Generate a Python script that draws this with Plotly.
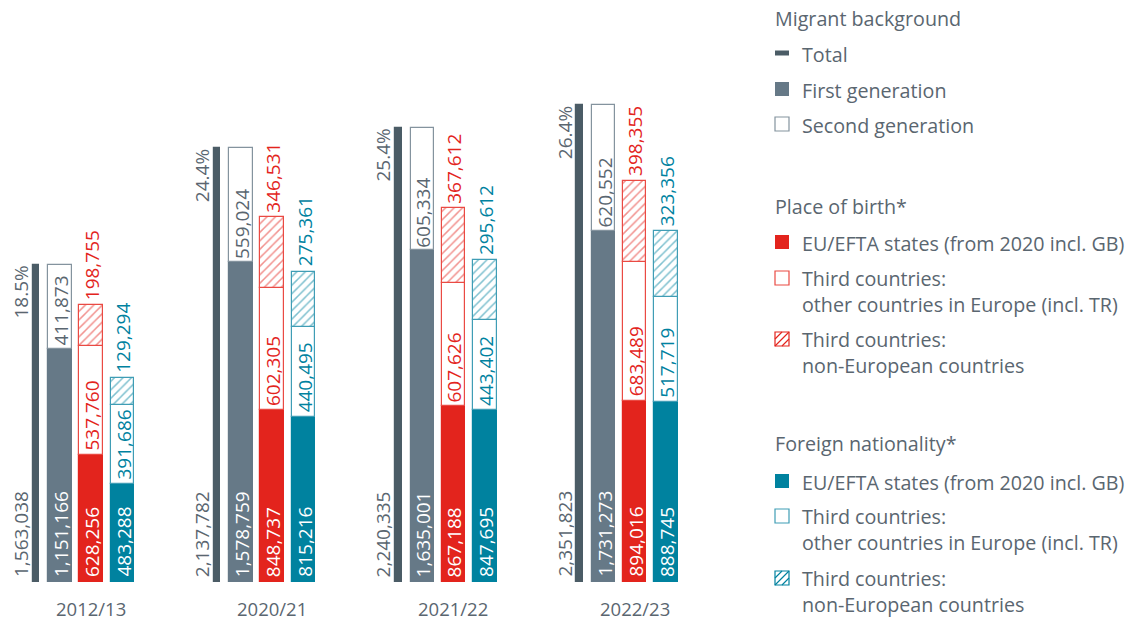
import plotly.graph_objects as go

# ---------------- data ----------------
years = ["2012/13", "2020/21", "2021/22", "2022/23"]
total = [1563038, 2137782, 2240335, 2351823]
share = ["18.5%", "24.4%", "25.4%", "26.4%"]
first_gen = [1151166, 1578759, 1635001, 1731273]
second_gen = [411873, 559024, 605334, 620552]
birth_eu = [628256, 848737, 867188, 894016]
birth_europe_other = [537760, 602305, 607626, 683489]
birth_non_europe = [198755, 346531, 367612, 398355]
nat_eu = [483288, 815216, 847695, 888745]
nat_europe_other = [391686, 440495, 443402, 517719]
nat_non_europe = [129294, 275361, 295612, 323356]

legend_titles = ["Migrant background", "Place of birth*", "Foreign nationality*"]
legend_migrant = ["Total", "First generation", "Second generation"]
legend_origin = ["EU/EFTA states (from 2020 incl. GB)",
                 "Third countries:<br>other countries in Europe (incl. TR)",
                 "Third countries:<br>non-European countries"]

# ---------------- style ----------------
W, H = 1133, 620
MB = 38
PH = H - MB
GROUP_PX = 181.2
X0_PX = 91.0
PX_PER_UNIT = 2.028e-4
FONT = "Open Sans"
C_TEXT = "#5a6670"
C_TOTAL = "#4b5c66"
C_GEN = "#667987"
C_GEN_LINE = "#84939e"
C_RED = "#e3241d"
C_RED_LINE = "#ea4a43"
C_TEAL = "#00829f"
C_TEAL_LINE = "#3f9db5"

idx = list(range(len(years)))


def pos(off_px):
    return [i + off_px / GROUP_PX for i in idx]


x_total = pos(-55)
x_gen = pos(-31)
x_birth = pos(0)
x_nat = pos(31.5)
w_total = 6.5 / GROUP_PX
w_bar = 23.5 / GROUP_PX


def add(a, b):
    return [p + q for p, q in zip(a, b)]


fig = go.Figure()


def bar(x, y, base, width, color, line, pattern=None):
    marker = dict(color=color, line=dict(color=line, width=1.2))
    if pattern:
        marker["pattern"] = dict(shape="/", fgcolor=pattern, bgcolor="white",
                                 size=6, solidity=0.25)
    fig.add_trace(go.Bar(x=x, y=y, base=base, width=width, marker=marker,
                         showlegend=False, hoverinfo="skip"))


bar(x_total, total, [0] * 4, w_total, C_TOTAL, C_TOTAL)
bar(x_gen, first_gen, [0] * 4, w_bar, C_GEN, C_GEN)
bar(x_gen, second_gen, first_gen, w_bar, "white", C_GEN_LINE)
bar(x_birth, birth_eu, [0] * 4, w_bar, C_RED, C_RED)
bar(x_birth, birth_europe_other, birth_eu, w_bar, "white", C_RED_LINE)
bar(x_birth, birth_non_europe, add(birth_eu, birth_europe_other), w_bar,
    "white", C_RED_LINE, pattern=C_RED)
bar(x_nat, nat_eu, [0] * 4, w_bar, C_TEAL, C_TEAL)
bar(x_nat, nat_europe_other, nat_eu, w_bar, "white", C_TEAL_LINE)
bar(x_nat, nat_non_europe, add(nat_eu, nat_europe_other), w_bar,
    "white", C_TEAL_LINE, pattern=C_TEAL)

annotations = []
FS = 19


def vlabel(x, y, text, color, anchor, shift):
    annotations.append(dict(x=x, y=y, xref="x", yref="y", text=text,
                            textangle=-90, showarrow=False, xanchor="center",
                            yanchor=anchor, yshift=shift, xshift=1,
                            font=dict(family=FONT, size=FS, color=color)))


x_total_lab = pos(-71)
for i in idx:
    vlabel(x_total_lab[i], 0, f"{total[i]:,}", C_TEXT, "bottom", 3)
    vlabel(x_total_lab[i], total[i], share[i], C_TEXT, "top", 1)
    vlabel(x_gen[i], 0, f"{first_gen[i]:,}", "white", "bottom", 3)
    vlabel(x_gen[i], first_gen[i], f"{second_gen[i]:,}", C_TEXT, "bottom", 1)
    vlabel(x_birth[i], 0, f"{birth_eu[i]:,}", "white", "bottom", 3)
    vlabel(x_birth[i], birth_eu[i], f"{birth_europe_other[i]:,}", C_RED, "bottom", 2)
    vlabel(x_birth[i], birth_eu[i] + birth_europe_other[i] + birth_non_europe[i],
           f"{birth_non_europe[i]:,}", C_RED, "bottom", 3)
    vlabel(x_nat[i], 0, f"{nat_eu[i]:,}", "white", "bottom", 3)
    vlabel(x_nat[i], nat_eu[i], f"{nat_europe_other[i]:,}", C_TEAL, "bottom", 2)
    vlabel(x_nat[i], nat_eu[i] + nat_europe_other[i] + nat_non_europe[i],
           f"{nat_non_europe[i]:,}", C_TEAL, "bottom", 3)
    annotations.append(dict(x=i, y=0, xref="x", yref="y", text=years[i],
                            showarrow=False, xanchor="center", yanchor="top",
                            yshift=-12, font=dict(family=FONT, size=18.5, color=C_TEXT)))

# ---------------- custom legend ----------------
def px(xp):
    return xp / W


def py(yp):
    return 1 - yp / PH


shapes = []
LX_SYM = 775
LX_TXT = 800
SQ = 14
LFS = 19.7


def ltext(yc, text):
    annotations.append(dict(x=px(LX_TXT), y=py(yc), xref="paper",
                            yref="paper", text=text, showarrow=False,
                            xanchor="left", yanchor="middle", align="left",
                            font=dict(family=FONT, size=LFS, color=C_TEXT)))


def ltitle(yc, text):
    annotations.append(dict(x=px(LX_SYM - 2), y=py(yc), xref="paper", yref="paper",
                            text=text, showarrow=False, xanchor="left",
                            yanchor="middle", font=dict(family=FONT, size=LFS, color=C_TEXT)))


def sym(yc, kind, color):
    x0, x1 = px(LX_SYM), px(LX_SYM + SQ)
    if kind == "line":
        shapes.append(dict(type="rect", xref="paper", yref="paper", x0=x0, x1=x1,
                           y0=py(yc - 2.5), y1=py(yc + 2.5), fillcolor=color,
                           line=dict(width=0)))
        return
    y0, y1 = py(yc + SQ / 2), py(yc - SQ / 2)
    if kind == "fill":
        shapes.append(dict(type="rect", xref="paper", yref="paper", x0=x0, x1=x1,
                           y0=y0, y1=y1, fillcolor=color, line=dict(width=0)))
    else:
        shapes.append(dict(type="rect", xref="paper", yref="paper", x0=x0, x1=x1,
                           y0=y0, y1=y1, fillcolor="white",
                           line=dict(width=1.2, color=color)))
    if kind == "hatch":
        t, b = yc - SQ / 2, yc + SQ / 2
        l, r = LX_SYM, LX_SYM + SQ
        segs = [((l, t + 7), (l + 7, t)), ((l, b), (r, t)), ((l + 7, b), (r, t + 7))]
        path = " ".join(f"M{px(a[0])},{py(a[1])} L{px(c[0])},{py(c[1])}" for a, c in segs)
        shapes.append(dict(type="path", xref="paper", yref="paper", path=path,
                           line=dict(width=1.2, color=color)))


ltitle(18, legend_titles[0])
for yc, lab, kind, col in zip([54, 90, 125], legend_migrant,
                              ["line", "fill", "empty"], [C_TOTAL, C_GEN, C_GEN_LINE]):
    sym(yc - 1, kind, col)
    ltext(yc, lab)

ltitle(206, legend_titles[1])
for yc, lab, kind, col in zip([243, 279, 340], legend_origin,
                              ["fill", "empty", "hatch"], [C_RED, C_RED_LINE, C_RED]):
    sym(yc - 1, kind, col)
    ltext(yc + (12 if "<br>" in lab else 0), lab)

ltitle(443, legend_titles[2])
for yc, lab, kind, col in zip([482, 517, 579], legend_origin,
                              ["fill", "empty", "hatch"], [C_TEAL, C_TEAL_LINE, C_TEAL]):
    sym(yc - 1, kind, col)
    ltext(yc + (12 if "<br>" in lab else 0), lab)

fig.update_layout(
    width=W, height=H, barmode="overlay", bargap=0,
    margin=dict(l=0, r=0, t=0, b=MB, pad=0),
    paper_bgcolor="white", plot_bgcolor="white",
    xaxis=dict(range=[-X0_PX / GROUP_PX, (W - X0_PX) / GROUP_PX], visible=False,
               fixedrange=True),
    yaxis=dict(range=[0, PH / PX_PER_UNIT], visible=False, fixedrange=True),
    annotations=annotations, shapes=shapes, showlegend=False,
    font=dict(family=FONT, color=C_TEXT),
)

fig.write_html("out.html")
